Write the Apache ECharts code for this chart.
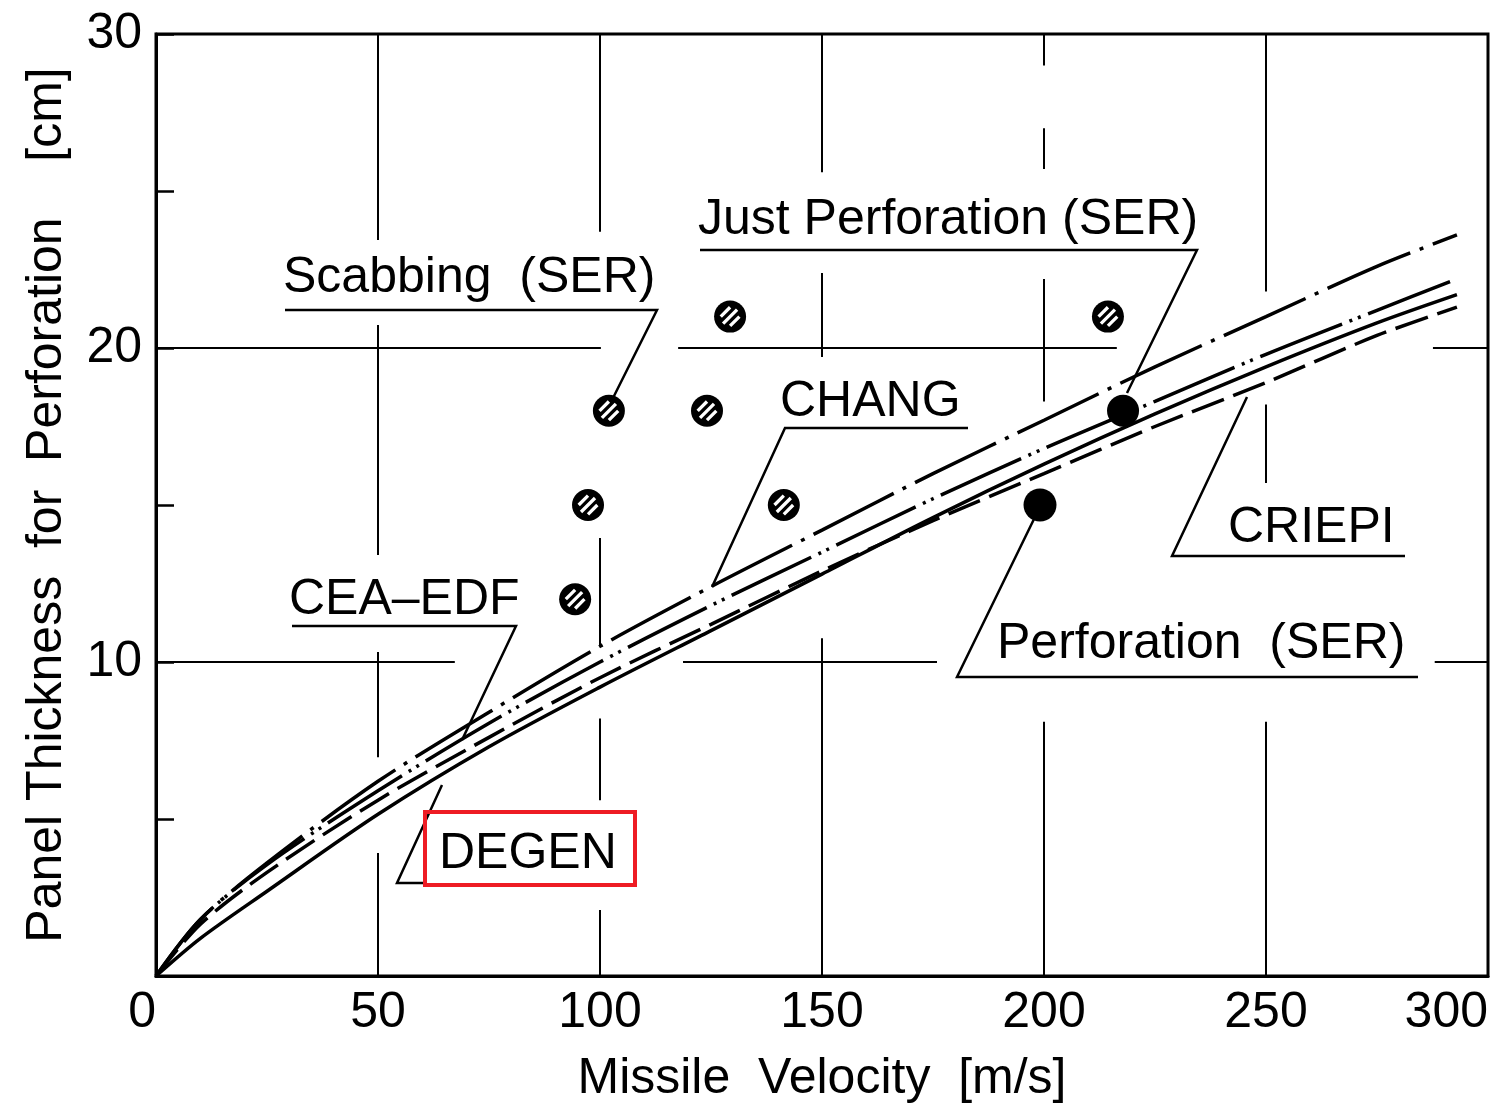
<!DOCTYPE html>
<html>
<head>
<meta charset="utf-8">
<script src="https://cdn.jsdelivr.net/npm/echarts@6/dist/echarts.min.js"></script>
<style>
  html, body { margin: 0; padding: 0; background: #fff; }
  #chart { width: 1507px; height: 1104px; }
</style>
</head>
<body>
<div id="chart"></div>
<script>
// Missile velocity [m/s] at which each formula curve is sampled
const velocity = [0, 10, 25, 50, 75, 100, 125, 150, 175, 200, 225, 250, 275, 293];

// Panel thickness for perforation [cm] predicted by each formula
const changThickness  = [0, 1.8, 3.6, 6.2, 8.4, 10.5, 12.4, 14.2, 16.0, 17.7, 19.4, 21.0, 22.6, 23.6];
const ceaEdfThickness = [0, 1.8, 3.55, 5.9, 8.05, 10.0, 11.8, 13.5, 15.2, 16.8, 18.3, 19.8, 21.2, 22.2];
const criepiThickness = [0, 1.65, 3.3, 5.6, 7.6, 9.5, 11.2, 12.9, 14.5, 16.0, 17.5, 18.9, 20.4, 21.3];
const degenThickness  = [0, 1.2, 2.7, 5.15, 7.3, 9.2, 11.0, 12.8, 14.6, 16.3, 17.9, 19.4, 20.8, 21.7];

// SER test results: scabbing (hatched), perforation and just perforation (filled)
const scabbingVelocity  = [94.4, 97.3, 102.0, 124.1, 129.3, 141.4, 214.4];
const scabbingThickness = [12, 15, 18, 18, 21, 15, 21];
const perforationVelocity  = [199.1];
const perforationThickness = [15];
const justPerforationVelocity  = [217.8];
const justPerforationThickness = [18];

// Axis tick labels
const xTickLabels = [0, 50, 100, 150, 200, 250, 300];
const yTickLabels = [10, 20, 30];

// Grid line runs (broken around the annotations): [direction, at, from, to]
const gridRuns = [
  ['v', 50, 30, 23.44], ['v', 50, 20.73, 13.41], ['v', 50, 10.32, 6.97], ['v', 50, 3.92, 0],
  ['v', 100, 30, 23.7], ['v', 100, 13.95, 10.54], ['v', 100, 8.2, 5.6], ['v', 100, 2.1, 0],
  ['v', 150, 30, 25.6], ['v', 150, 22.39, 19.71], ['v', 150, 10.76, 0],
  ['v', 200, 30, 29.0], ['v', 200, 27.0, 25.7], ['v', 200, 22.2, 18.3], ['v', 200, 8.1, 0],
  ['v', 250, 30, 21.8], ['v', 250, 18.2, 15.7], ['v', 250, 8.1, 0],
  ['h', 20, 0, 100.2], ['h', 20, 117.6, 216.4], ['h', 20, 287.6, 300],
  ['h', 10, 0, 67.3], ['h', 10, 118.7, 175.9], ['h', 10, 288, 300]
];

const FONT = '"Liberation Sans", Arial, Helvetica, sans-serif';
const INK = '#000';

const pairs = (xs, ys) => xs.map((x, i) => [x, ys[i]]);

const gridData = [];
gridRuns.forEach(([dir, at, a, b]) => {
  if (dir === 'v') { gridData.push([at, a], [at, b]); }
  else { gridData.push([a, at], [b, at]); }
  gridData.push(null);
});

// three white diagonal stripes for the hatched markers
const HATCH = 'path://M1,9L9,1L11,3L3,11ZM3,15L15,3L17,5L5,17ZM9,17L17,9L19,11L11,19Z';

function curve(name, data, dash) {
  return {
    name, type: 'line', data, smooth: 0.3,
    symbol: 'none', silent: true, z: 3,
    lineStyle: { color: INK, width: 3.5, type: dash || 'solid', cap: 'butt', opacity: 1 }
  };
}

// Annotation labels with their underline + leader
const annotations = [
  { text: 'Scabbing  (SER)',        x: 283,  y: 278, line: [[285, 310], [657, 310], [613, 398]] },
  { text: 'Just Perforation (SER)', x: 698,  y: 220, line: [[700, 250], [1197, 250], [1127, 393]] },
  { text: 'CHANG',                  x: 780,  y: 402, line: [[968, 428], [785, 428], [712, 587]] },
  { text: 'CEA\u2013EDF',           x: 289,  y: 600, line: [[292, 626], [516, 626], [462, 740]] },
  { text: 'DEGEN',                  x: 439,  y: 854, line: [[442, 785], [397, 883], [425, 883]] },
  { text: 'CRIEPI',                 x: 1228, y: 528, line: [[1405, 556], [1172, 556], [1247, 397]] },
  { text: 'Perforation  (SER)',     x: 997,  y: 644, line: [[1418, 677], [957, 677], [1035, 517]] }
];

const graphics = [];
annotations.forEach(a => {
  graphics.push({
    type: 'text', x: a.x, y: a.y, z: 10,
    style: { text: a.text, fill: INK, fontSize: 50, fontFamily: FONT, align: 'left', verticalAlign: 'middle' }
  });
  graphics.push({
    type: 'polyline', z: 10,
    shape: { points: a.line },
    style: { stroke: INK, lineWidth: 2.5, fill: null }
  });
});
graphics.push({
  type: 'rect', z: 11,
  shape: { x: 425, y: 812, width: 210, height: 73 },
  style: { stroke: '#ee1c24', lineWidth: 4, fill: null }
});

const chart = echarts.init(document.getElementById('chart'), null, { renderer: 'canvas' });
chart.setOption({
  backgroundColor: '#fff',
  animation: false,
  grid: {
    left: 156, right: 19, top: 34, bottom: 128,
    show: true, borderColor: INK, borderWidth: 3,
    outerBoundsMode: 'none', containLabel: false
  },
  xAxis: {
    type: 'value', min: 0, max: 300, interval: 50,
    axisLine: { lineStyle: { color: INK, width: 3 } },
    axisTick: { show: false },
    splitLine: { show: false },
    axisLabel: {
      color: INK, fontSize: 50, fontFamily: FONT, margin: 12,
      alignMinLabel: 'right', alignMaxLabel: 'right',
      formatter: v => xTickLabels.includes(v) ? String(v) : ''
    },
    name: 'Missile  Velocity  [m/s]', nameLocation: 'middle', nameGap: 78,
    nameTextStyle: { color: INK, fontSize: 50, fontFamily: FONT }
  },
  yAxis: {
    type: 'value', min: 0, max: 30, interval: 5,
    axisLine: { lineStyle: { color: INK, width: 3 } },
    axisTick: { show: true, inside: true, length: 18, lineStyle: { color: INK, width: 2.5 } },
    splitLine: { show: false },
    axisLabel: {
      color: INK, fontSize: 50, fontFamily: FONT, margin: 14,
      formatter: v => yTickLabels.includes(v) ? String(v) : ''
    },
    name: 'Panel Thickness  for  Perforation    [cm]', nameLocation: 'middle', nameGap: 84,
    nameTextStyle: { color: INK, fontSize: 50, fontFamily: FONT }
  },
  graphic: graphics,
  series: [
    {
      name: 'grid', type: 'line', data: gridData, connectNulls: false,
      symbol: 'none', silent: true, z: 1,
      lineStyle: { color: INK, width: 2 }
    },
    curve('CHANG', pairs(velocity, changThickness), [90, 10, 4, 10]),
    curve('CEA-EDF', pairs(velocity, ceaEdfThickness), [88, 8, 3, 6, 3, 8]),
    curve('CRIEPI', pairs(velocity, criepiThickness), [34, 10]),
    curve('DEGEN', pairs(velocity, degenThickness)),
    {
      name: 'Scabbing (SER)', type: 'scatter', data: pairs(scabbingVelocity, scabbingThickness),
      symbol: 'circle', symbolSize: 32, silent: true, z: 5,
      itemStyle: { color: INK, opacity: 1 }
    },
    {
      name: 'Scabbing (SER) hatch', type: 'scatter', data: pairs(scabbingVelocity, scabbingThickness),
      symbol: HATCH, symbolSize: 21, silent: true, z: 6,
      itemStyle: { color: '#fff', opacity: 1 }
    },
    {
      name: 'Perforation (SER)', type: 'scatter', data: pairs(perforationVelocity, perforationThickness),
      symbol: 'circle', symbolSize: 33, silent: true, z: 5,
      itemStyle: { color: INK, opacity: 1 }
    },
    {
      name: 'Just Perforation (SER)', type: 'scatter', data: pairs(justPerforationVelocity, justPerforationThickness),
      symbol: 'circle', symbolSize: 32, silent: true, z: 5,
      itemStyle: { color: INK, opacity: 1 }
    }
  ]
});
</script>
</body>
</html>
